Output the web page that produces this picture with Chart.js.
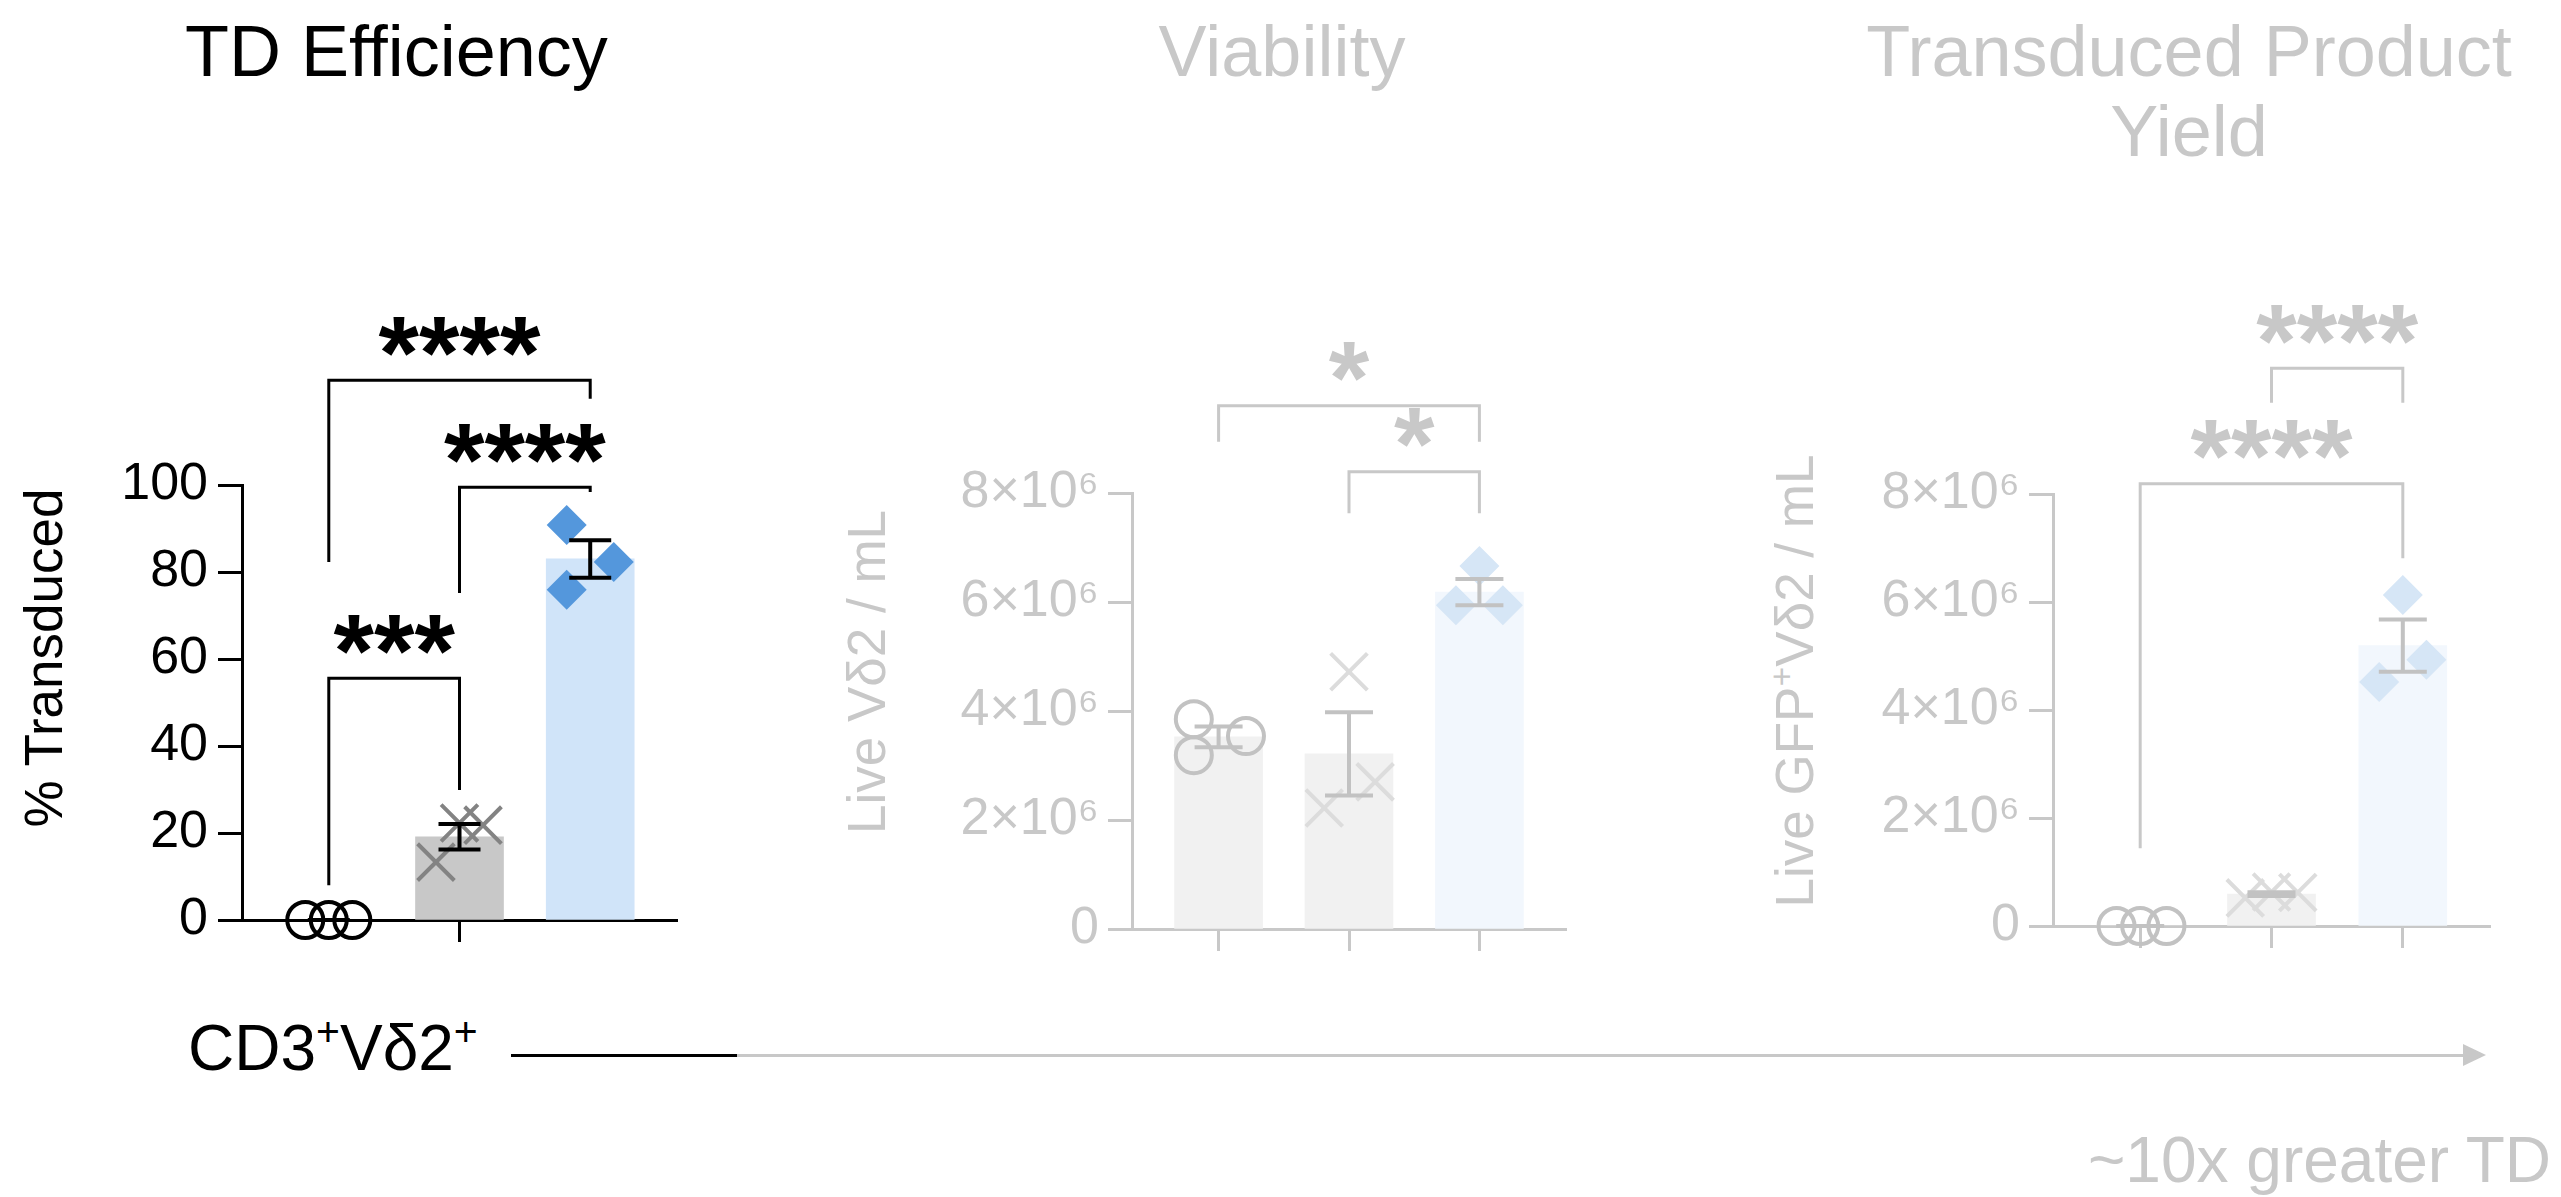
<!DOCTYPE html>
<html>
<head>
<meta charset="utf-8">
<script src="https://cdn.jsdelivr.net/npm/chart.js@4.4.1/dist/chart.umd.min.js"></script>
<style>
  html, body { margin: 0; padding: 0; background: #fff; }
  body { width: 2561px; height: 1197px; position: relative; overflow: hidden;
         font-family: 'Liberation Sans', Arial, Helvetica, sans-serif; }
  .txt { position: absolute; white-space: nowrap; line-height: 1; }
  .title { position: absolute; font-size: 72px; line-height: 80px; text-align: center; white-space: nowrap; }
  .ylab { position: absolute; font-size: 53px; line-height: 1; white-space: nowrap;
          transform: translate(-50%, -50%) rotate(-90deg); }
  sup { font-size: 0.64em; line-height: 0; vertical-align: 0.58em; }
  canvas { position: absolute; top: 0; }
</style>
</head>
<body>

<div class="title" style="left:185px; top:11px; width:400px; color:#000;">TD Efficiency</div>
<div class="title" style="left:1082px; top:11px; width:400px; color:#c8c8c8;">Viability</div>
<div class="title" style="left:1839px; top:11px; width:700px; color:#c8c8c8;">Transduced Product<br>Yield</div>

<div class="ylab" style="left:43px; top:658px; color:#000;">% Transduced</div>
<div class="ylab" style="left:866px; top:672px; color:#c8c8c8;">Live Vδ2 / mL</div>
<div class="ylab" style="left:1794px; top:681px; color:#c8c8c8;">Live GFP<sup>+</sup>Vδ2 / mL</div>

<canvas id="c1" width="760" height="1000" style="left:0px;"></canvas>
<canvas id="c2" width="860" height="1000" style="left:780px;"></canvas>
<canvas id="c3" width="861" height="1000" style="left:1700px;"></canvas>

<div class="txt" style="left:188px; top:1016px; font-size:64px; color:#000;">CD3<sup>+</sup>Vδ2<sup>+</sup></div>
<div style="position:absolute; left:511px; top:1054px; width:226px; height:3px; background:#000;"></div>
<div style="position:absolute; left:737px; top:1054px; width:1728px; height:3px; background:#c8c8c8;"></div>
<div style="position:absolute; left:2463px; top:1044px; width:0; height:0; border-left:23px solid #c8c8c8; border-top:11.5px solid transparent; border-bottom:11.5px solid transparent;"></div>
<div class="txt" style="right:10px; top:1128px; font-size:64px; color:#c8c8c8;">~10x greater TD</div>

<script>
// ---- data ----------------------------------------------------------------
const categories = ['Group 1', 'Group 2', 'Group 3'];

// % transduced (CD3+ Vδ2+), three replicates per group
const tdEfficiency = [
  [0, 0, 0],
  [13.3, 22.3, 21.8],
  [90.8, 82.3, 75.9]
];
// live Vδ2 cells per mL
const viability = [
  [3.85e6, 3.19e6, 3.54e6],
  [4.72e6, 2.22e6, 2.70e6],
  [6.66e6, 5.94e6, 5.94e6]
];
// live GFP+ Vδ2 cells per mL
const productYield = [
  [0, 0, 0],
  [0.52e6, 0.63e6, 0.62e6],
  [6.13e6, 4.93e6, 4.52e6]
];

const pctTicks = [0, 20, 40, 60, 80, 100];
const pctTickLabels = ['0', '20', '40', '60', '80', '100'];
const countTicks = [0, 2e6, 4e6, 6e6, 8e6];
const countTickLabels = ['0', '2×10⁶', '4×10⁶', '6×10⁶', '8×10⁶'];

// significance brackets: group pair, bracket height, leg ends, label
const tdBrackets = [
  { from: 0, to: 2, level: 124.1, legs: [82.3, 119.8], label: '****' },
  { from: 1, to: 2, level: 99.5,  legs: [75.2, 98.4],  label: '****' },
  { from: 0, to: 1, level: 55.6,  legs: [8.0, 29.9],   label: '***' }
];
const viabilityBrackets = [
  { from: 0, to: 2, level: 9.60e6, legs: [8.94e6, 8.94e6], label: '*' },
  { from: 1, to: 2, level: 8.39e6, legs: [7.63e6, 7.63e6], label: '*' }
];
const yieldBrackets = [
  { from: 1, to: 2, level: 10.33e6, legs: [9.69e6, 9.69e6], label: '****' },
  { from: 0, to: 2, level: 8.19e6,  legs: [1.44e6, 6.81e6], label: '****' }
];

// horizontal scatter of replicate symbols, in category units
const tdJitter        = [[-0.18, 0, 0.18], [-0.18, 0, 0.18], [-0.18, 0.18, -0.18]];
const viabilityJitter = [[-0.19, -0.19, 0.21], [0, -0.19, 0.2], [0, -0.18, 0.18]];
const yieldJitter     = [[-0.18, 0, 0.2], [-0.2, 0, 0.2], [0, 0.18, -0.18]];

// ---- styles --------------------------------------------------------------
const FONT = "'Liberation Sans', Arial, Helvetica, sans-serif";
const strong = {
  axis: '#000', text: '#000', err: '#000',
  bars: ['rgba(0,0,0,0)', '#c8c8c8', '#d0e4f9'],
  marks: [
    { style: 'circle',   radius: 18, fill: 'rgba(0,0,0,0)', stroke: '#000',    width: 4 },
    { style: 'crossRot', radius: 26, fill: 'rgba(0,0,0,0)', stroke: '#838383', width: 4 },
    { style: 'rectRot',  radius: 20, fill: '#5497dc',       stroke: '#5497dc', width: 0 }
  ]
};
const faded = {
  axis: '#c8c8c8', text: '#c8c8c8', err: '#c2c2c2',
  bars: ['#f1f1f1', '#f1f1f1', '#f2f7fd'],
  marks: [
    { style: 'circle',   radius: 18, fill: 'rgba(0,0,0,0)', stroke: '#c2c2c2', width: 4 },
    { style: 'crossRot', radius: 26, fill: 'rgba(0,0,0,0)', stroke: '#dcdcdc', width: 4 },
    { style: 'rectRot',  radius: 20, fill: '#d6e6f6',       stroke: '#d6e6f6', width: 0 }
  ]
};

function mean(a) { return a.reduce((s, v) => s + v, 0) / a.length; }
function sem(a) {
  const m = mean(a);
  const v = a.reduce((s, x) => s + (x - m) * (x - m), 0) / (a.length - 1);
  return Math.sqrt(v / a.length);
}

function makePanel(canvasId, spec) {
  const st = spec.style;
  const means = spec.values.map(mean);
  const sems = spec.values.map(sem);
  const canvas = document.getElementById(canvasId);

  const datasets = [{
    type: 'bar',
    data: means.map((m, i) => ({ x: i, y: m })),
    backgroundColor: st.bars,
    borderWidth: 0,
    barThickness: 88,
    order: 2
  }];
  spec.values.forEach((reps, i) => {
    const mk = st.marks[i];
    datasets.push({
      type: 'scatter',
      data: reps.map((v, j) => ({ x: i + spec.jitter[i][j], y: v })),
      pointStyle: mk.style,
      pointRadius: mk.radius,
      pointHoverRadius: mk.radius,
      pointBackgroundColor: mk.fill,
      pointBorderColor: mk.stroke,
      pointBorderWidth: mk.width,
      clip: false,
      order: 1
    });
  });

  const errorBars = {
    id: 'errorBars',
    afterDatasetsDraw(chart) {
      const { ctx, scales: { x, y } } = chart;
      ctx.save();
      ctx.strokeStyle = st.err;
      ctx.lineWidth = 4;
      ctx.lineCap = 'butt';
      means.forEach((m, i) => {
        const px = x.getPixelForValue(i);
        const top = y.getPixelForValue(m + sems[i]);
        const bot = y.getPixelForValue(m - sems[i]);
        ctx.beginPath();
        ctx.moveTo(px, top); ctx.lineTo(px, bot);
        ctx.moveTo(px - spec.cap, top); ctx.lineTo(px + spec.cap, top);
        ctx.moveTo(px - spec.cap, bot); ctx.lineTo(px + spec.cap, bot);
        ctx.stroke();
      });
      ctx.restore();
    }
  };

  const brackets = {
    id: 'brackets',
    afterDraw(chart) {
      const { ctx, scales: { x, y } } = chart;
      ctx.save();
      ctx.strokeStyle = st.axis;
      ctx.fillStyle = st.text;
      ctx.lineWidth = 3;
      ctx.lineJoin = 'miter';
      ctx.font = 'bold 104px ' + FONT;
      ctx.textAlign = 'center';
      ctx.textBaseline = 'alphabetic';
      spec.brackets.forEach(b => {
        const x0 = x.getPixelForValue(b.from);
        const x1 = x.getPixelForValue(b.to);
        const yl = y.getPixelForValue(b.level);
        ctx.beginPath();
        ctx.moveTo(x0, y.getPixelForValue(b.legs[0]));
        ctx.lineTo(x0, yl);
        ctx.lineTo(x1, yl);
        ctx.lineTo(x1, y.getPixelForValue(b.legs[1]));
        ctx.stroke();
        const m = ctx.measureText(b.label);
        const asc = m.actualBoundingBoxAscent, desc = m.actualBoundingBoxDescent;
        const cy = yl - 44;
        ctx.fillText(b.label, (x0 + x1) / 2, cy + (asc - desc) / 2);
      });
      ctx.restore();
    }
  };

  return new Chart(canvas, {
    data: { datasets },
    plugins: [errorBars, brackets],
    options: {
      responsive: false,
      animation: false,
      events: [],
      layout: { padding: { left: 0, top: spec.top, right: spec.right, bottom: 1000 - spec.bottom - 30 } },
      plugins: { legend: { display: false }, tooltip: { enabled: false } },
      scales: {
        x: {
          type: 'linear',
          offset: false,
          min: -0.664, max: 2.664,
          afterBuildTicks: s => { s.ticks = spec.xTicks.map(v => ({ value: v })); },
          afterFit: s => { s.height = 30; },
          border: { display: true, color: st.axis, width: 3 },
          grid: { offset: false, drawOnChartArea: false, drawTicks: true, tickLength: 22, tickWidth: 3, tickColor: st.axis, color: st.axis },
          ticks: { display: false }
        },
        y: {
          type: 'linear',
          min: 0, max: spec.max,
          afterBuildTicks: s => { s.ticks = spec.ticks.map(v => ({ value: v })); },
          afterFit: s => { s.width = spec.yWidth; },
          border: { display: true, color: st.axis, width: 3 },
          grid: { drawOnChartArea: false, drawTicks: true, tickLength: 24, tickWidth: 3, tickColor: st.axis, color: st.axis },
          ticks: {
            color: st.text,
            padding: spec.tickPad,
            font: { family: FONT, size: 52 },
            callback: (v, i) => spec.tickLabels[i]
          }
        }
      }
    }
  });
}

makePanel('c1', {
  values: tdEfficiency, jitter: tdJitter, brackets: tdBrackets, style: strong,
  ticks: pctTicks, tickLabels: pctTickLabels, max: 100, xTicks: [1],
  yWidth: 242, top: 485, bottom: 920, right: 760 - 677, tickPad: 10, cap: 21
});
makePanel('c2', {
  values: viability, jitter: viabilityJitter, brackets: viabilityBrackets, style: faded,
  ticks: countTicks, tickLabels: countTickLabels, max: 8e6, xTicks: [0, 1, 2],
  yWidth: 352, top: 493, bottom: 929, right: 860 - 786, tickPad: 9, cap: 24
});
makePanel('c3', {
  values: productYield, jitter: yieldJitter, brackets: yieldBrackets, style: faded,
  ticks: countTicks, tickLabels: countTickLabels, max: 8e6, xTicks: [0, 1, 2],
  yWidth: 353, top: 494, bottom: 926, right: 861 - 790, tickPad: 9, cap: 24
});
</script>
</body>
</html>
